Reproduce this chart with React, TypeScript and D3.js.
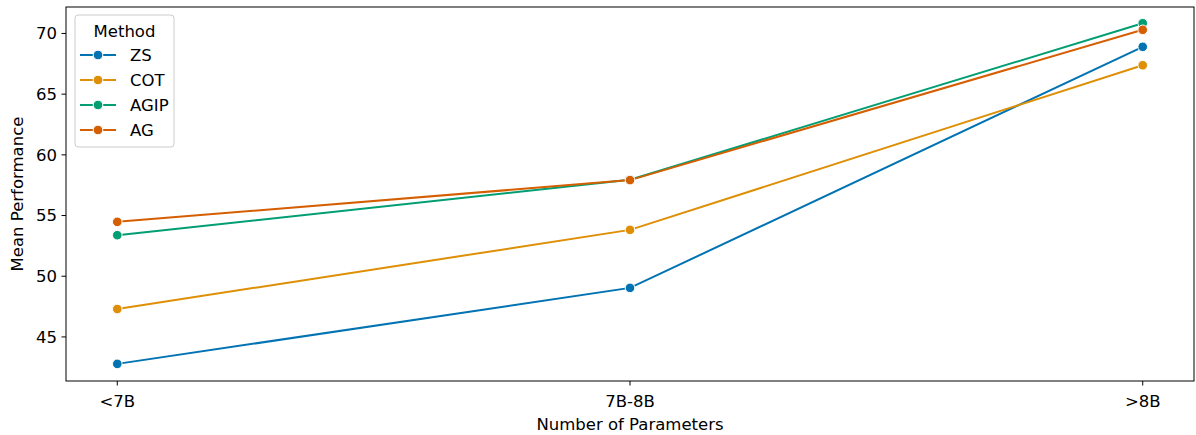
import { line, scaleLinear } from "d3";

const categories = ["<7B", "7B-8B", ">8B"];
const methods = ["ZS", "COT", "AGIP", "AG"];
const colors = ["#0173b2", "#de8f05", "#029e73", "#d55e00"];
const zsValues = [42.78, 49.04, 68.9];
const cotValues = [47.3, 53.82, 67.38];
const agipValues = [53.38, 57.95, 70.84];
const agValues = [54.48, 57.92, 70.3];
const yTicks = [45, 50, 55, 60, 65, 70];

const seriesValues = [zsValues, cotValues, agipValues, agValues];

const App = () => {
  const width = 1196;
  const height = 435;
  const margin = { top: 7, bottom: 54, left: 66, right: 2 };
  const innerWidth = width - margin.left - margin.right;
  const innerHeight = height - margin.top - margin.bottom;
  const font = "DejaVu Sans, sans-serif";
  const fs = 16.5;

  // categorical x with matplotlib-like 0.05 margins
  const xIndex = scaleLinear().domain([-0.1, 2.1]).range([0, innerWidth]);
  const xScale = (c: string) => xIndex(categories.indexOf(c));

  const yScale = scaleLinear().domain([41.37, 72.18]).range([innerHeight, 0]);

  const lineGen = line<number>()
    .x((_, i) => xScale(categories[i]))
    .y((d) => yScale(d));

  return (
    <div style={{ position: "fixed", left: 0, top: 0 }}>
      <svg width={width} height={height} style={{ display: "block", background: "#fff" }}>
        <g transform={`translate(${margin.left}, ${margin.top})`} fontFamily={font}>
          {seriesValues.map((vals, si) => (
            <g key={methods[si]}>
              <path d={lineGen(vals)} fill="none" stroke={colors[si]} strokeWidth={2} />
              {vals.map((v, i) => (
                <circle
                  key={i}
                  cx={xScale(categories[i])}
                  cy={yScale(v)}
                  r={4.8}
                  fill={colors[si]}
                  stroke="#fff"
                  strokeWidth={1}
                />
              ))}
            </g>
          ))}

          <rect x={0} y={0} width={innerWidth} height={innerHeight} fill="none" stroke="#000" strokeWidth={1} />

          {yTicks.map((t) => (
            <g key={t} transform={`translate(0, ${yScale(t)})`}>
              <line x1={-4.5} x2={0} stroke="#000" />
              <text x={-9} dy=".35em" textAnchor="end" fontSize={fs} fill="#000">
                {t}
              </text>
            </g>
          ))}

          {categories.map((c) => (
            <g key={c} transform={`translate(${xScale(c)}, ${innerHeight})`}>
              <line y2={4.5} stroke="#000" />
              <text y={20} dy=".35em" textAnchor="middle" fontSize={fs} fill="#000">
                {c}
              </text>
            </g>
          ))}

          <text
            x={innerWidth / 2}
            y={innerHeight + 43}
            dy=".35em"
            textAnchor="middle"
            fontSize={fs}
            fill="#000"
          >
            Number of Parameters
          </text>
          <text
            transform={`translate(${17 - margin.left}, ${innerHeight / 2}) rotate(-90)`}
            dy=".35em"
            textAnchor="middle"
            fontSize={fs}
            fill="#000"
          >
            Mean Performance
          </text>

          <g transform={`translate(${75 - margin.left}, ${15 - margin.top})`}>
            <rect
              x={0}
              y={0}
              width={99}
              height={132}
              rx={3}
              fill="#fff"
              fillOpacity={0.8}
              stroke="#ccc"
              strokeWidth={1}
            />
            <text x={49.5} y={16} dy=".35em" textAnchor="middle" fontSize={fs} fill="#000">
              Method
            </text>
            {methods.map((m, i) => (
              <g key={m} transform={`translate(0, ${40 + i * 25})`}>
                <line x1={5} x2={41} stroke={colors[i]} strokeWidth={2} />
                <circle cx={23} cy={0} r={4.8} fill={colors[i]} stroke="#fff" strokeWidth={1} />
                <text x={55} dy=".35em" fontSize={fs} fill="#000">
                  {m}
                </text>
              </g>
            ))}
          </g>
        </g>
      </svg>
    </div>
  );
};

export default App;
